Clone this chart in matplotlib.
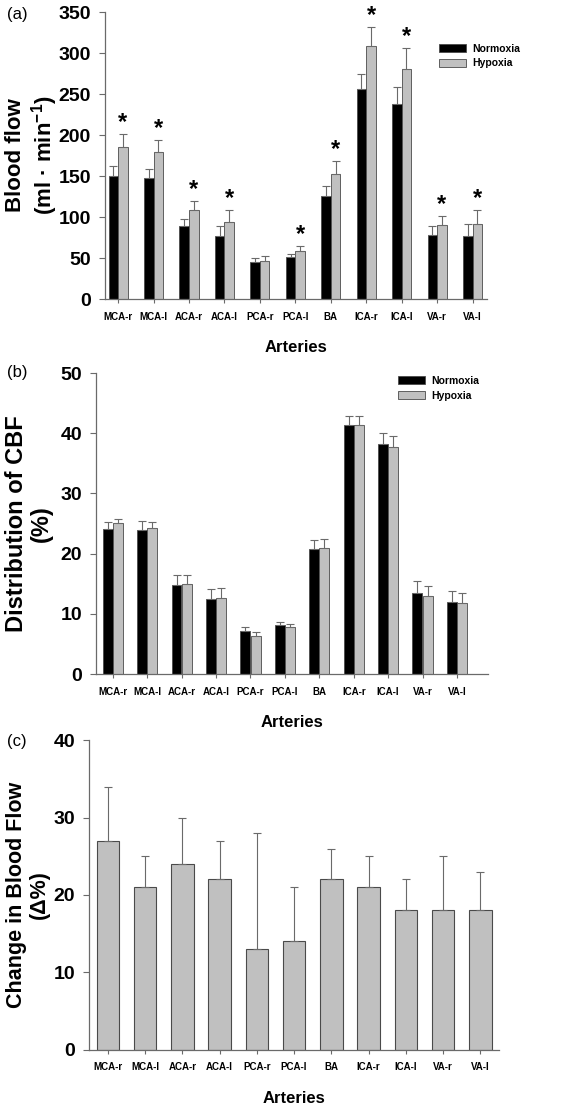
import numpy as np
import matplotlib
matplotlib.use("Agg")
import matplotlib.pyplot as plt

plt.rcParams['font.family'] = ['Liberation Sans', 'DejaVu Sans']
plt.rcParams['mathtext.fontset'] = 'custom'
plt.rcParams['mathtext.rm'] = 'Liberation Sans'
plt.rcParams['mathtext.bf'] = 'Liberation Sans:bold'

# categories
arteries = ["MCA-r", "MCA-l", "ACA-r", "ACA-l", "PCA-r", "PCA-l",
            "BA", "ICA-r", "ICA-l", "VA-r", "VA-l"]

# (a) blood flow, ml/min
flow_norm = [150, 147, 89, 77, 45, 51, 126, 256, 238, 78, 77]
flow_norm_err = [12, 11, 9, 12, 5, 4, 12, 18, 21, 11, 14]
flow_hyp = [186, 179, 109, 94, 46, 59, 153, 308, 281, 90, 91]
flow_hyp_err = [15, 15, 11, 15, 6, 6, 15, 24, 25, 11, 18]
flow_sig = [1, 1, 1, 1, 0, 1, 1, 1, 1, 1, 1]

# (b) distribution of CBF, %
dist_norm = [24.1, 24.0, 14.8, 12.4, 7.2, 8.2, 20.7, 41.3, 38.2, 13.4, 11.9]
dist_norm_err = [1.1, 1.4, 1.7, 1.8, 0.6, 0.4, 1.5, 1.5, 1.8, 2.0, 1.9]
dist_hyp = [25.1, 24.2, 15.0, 12.6, 6.3, 7.8, 20.9, 41.4, 37.7, 12.9, 11.8]
dist_hyp_err = [0.7, 1.1, 1.5, 1.7, 0.7, 0.5, 1.5, 1.5, 1.8, 1.7, 1.7]

# (c) change in blood flow, delta %
change = [27, 21, 24, 22, 13, 14, 22, 21, 18, 18, 18]
change_err = [7, 4, 6, 5, 15, 7, 4, 4, 4, 7, 5]

grey = "#c0c0c0"
edge = "#4a4a4a"
axcol = "#6a6a6a"

fig = plt.figure(figsize=(5.66, 11.05), dpi=100)
x = np.arange(len(arteries))


def style_axis(ax, ylim, yticks, ylabel, labsize, labx, xlim):
    ax.set_xlim(xlim)
    ax.set_ylim(ylim)
    ax.set_yticks(yticks)
    ax.set_xticks(x)
    ax.set_xticklabels(arteries, fontsize=7, fontweight="bold")
    for lab in ax.get_yticklabels():
        lab.set_fontsize(14)
        lab.set_fontweight("bold")
    for s in ["top", "right"]:
        ax.spines[s].set_visible(False)
    for s in ["left", "bottom"]:
        ax.spines[s].set_color(axcol)
        ax.spines[s].set_linewidth(0.9)
    ax.tick_params(axis="y", direction="out", length=4, width=0.8, color=axcol, pad=6)
    ax.tick_params(axis="x", direction="out", length=3, width=0.8, color=axcol, pad=6)
    ax.set_xlabel("Arteries", fontsize=12, fontweight="bold", labelpad=13)
    ax.set_ylabel(ylabel, fontsize=labsize, fontweight="bold", linespacing=1.1,
                  va="center")
    ax.yaxis.set_label_coords(labx, 0.5)


errkw = dict(ecolor=axcol, elinewidth=0.8, capsize=3, capthick=0.8)
w = 0.27

# panel (a)
ax1 = fig.add_axes([0.1855, 0.7294, 0.6745, 0.2597])
ax1.bar(x - w / 2, flow_norm, w, color="black", edgecolor=edge, linewidth=0.6,
        yerr=[np.zeros(len(x)), flow_norm_err], error_kw=errkw, label="Normoxia")
ax1.bar(x + w / 2, flow_hyp, w, color=grey, edgecolor=edge, linewidth=0.6,
        yerr=[np.zeros(len(x)), flow_hyp_err], error_kw=errkw, label="Hypoxia")
for i in range(len(x)):
    if flow_sig[i]:
        ax1.annotate("*", (x[i] + w / 2, flow_hyp[i] + flow_hyp_err[i]),
                     xytext=(0, 0), textcoords="offset points",
                     ha="center", va="bottom", fontsize=17, fontweight="bold")
style_axis(ax1, (0, 350), range(0, 351, 50),
           "Blood flow\n(ml · min$^{\\mathbf{-1}}$)", 16, -0.19, (-0.37, 10.4))
ax1.legend(loc="upper left", bbox_to_anchor=(0.875, 0.89), frameon=False,
           prop={"size": 7.5, "weight": "bold"}, borderpad=0, borderaxespad=0,
           handlelength=2.6, handleheight=0.8, handletextpad=0.6, labelspacing=0.45)

# panel (b)
ax2 = fig.add_axes([0.1696, 0.390, 0.6924, 0.2724])
ax2.bar(x - 0.15, dist_norm, 0.29, color="black", edgecolor=edge, linewidth=0.6,
        yerr=[np.zeros(len(x)), dist_norm_err], error_kw=errkw, label="Normoxia")
ax2.bar(x + 0.15, dist_hyp, 0.29, color=grey, edgecolor=edge, linewidth=0.6,
        yerr=[np.zeros(len(x)), dist_hyp_err], error_kw=errkw, label="Hypoxia")
style_axis(ax2, (0, 50), range(0, 51, 10),
           "Distribution of CBF\n(%)", 17, -0.17, (-0.49, 10.9))
ax2.legend(loc="upper left", bbox_to_anchor=(0.77, 0.99), frameon=False,
           prop={"size": 7.5, "weight": "bold"}, borderpad=0, borderaxespad=0,
           handlelength=2.6, handleheight=0.8, handletextpad=0.6, labelspacing=0.45)

# panel (c)
ax3 = fig.add_axes([0.157, 0.0498, 0.7246, 0.2805])
ax3.bar(x, change, 0.6, color=grey, edgecolor=edge, linewidth=0.8,
        yerr=[np.zeros(len(x)), change_err], error_kw=errkw)
style_axis(ax3, (0, 40), range(0, 41, 10),
           "Change in Blood Flow\n(Δ%)", 15.5, -0.148, (-0.51, 10.5))

fig.text(0.012, 0.987, "(a)", fontsize=12, va="center")
fig.text(0.012, 0.663, "(b)", fontsize=12, va="center")
fig.text(0.012, 0.329, "(c)", fontsize=12, va="center")

fig.savefig("out.png", dpi=100)
